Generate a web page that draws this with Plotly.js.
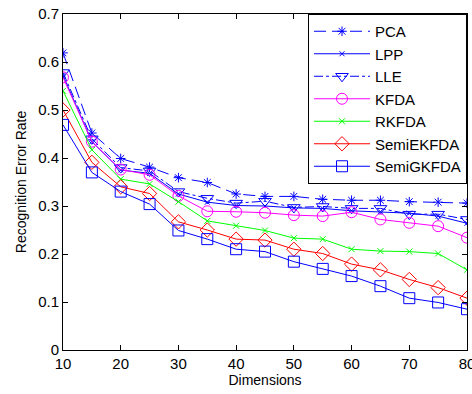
<!DOCTYPE html>
<html><head><meta charset="utf-8">
<script src="https://cdn.plot.ly/plotly-3.0.1.min.js"></script>
<style>body{margin:0;background:#fff}#c{width:472px;height:394px}</style>
</head><body><div id="c"></div>
<script>
const dims = [10,15,20,25,30,35,40,45,50,55,60,65,70,75,80];
const pca      = [0.619,0.452,0.399,0.381,0.359,0.349,0.325,0.320,0.320,0.314,0.312,0.312,0.309,0.308,0.306];
const lpp      = [0.572,0.434,0.375,0.368,0.325,0.308,0.301,0.300,0.296,0.295,0.290,0.288,0.285,0.279,0.264];
const lle      = [0.578,0.440,0.380,0.373,0.330,0.316,0.306,0.310,0.297,0.299,0.295,0.295,0.283,0.283,0.272];
const kfda     = [0.568,0.434,0.376,0.365,0.321,0.289,0.288,0.286,0.281,0.279,0.287,0.272,0.265,0.258,0.234];
const rkfda    = [0.540,0.417,0.356,0.346,0.309,0.269,0.259,0.249,0.233,0.231,0.210,0.206,0.205,0.201,0.167];
const semiE    = [0.500,0.391,0.340,0.326,0.267,0.250,0.231,0.229,0.210,0.201,0.179,0.167,0.147,0.130,0.108];
const semiG    = [0.469,0.370,0.330,0.304,0.249,0.231,0.210,0.205,0.184,0.169,0.154,0.133,0.108,0.099,0.085];
const names = ['PCA','LPP','LLE','KFDA','RKFDA','SemiEKFDA','SemiGKFDA'];
const xTicks = [10,20,30,40,50,60,70,80];
const yTicks = [0,0.1,0.2,0.3,0.4,0.5,0.6,0.7];
const yTickText = ['0','0.1','0.2','0.3','0.4','0.5','0.6','0.7'];

const blue='#0000ff', mag='#ff00ff', grn='#00ff00', red='#ff0000';
function tr(y,name,color,sym,size,dash){
  return {x:dims,y:y,name:name,type:'scatter',mode:'lines+markers',
    line:{color:color,width:1,dash:dash||'solid'},
    marker:{symbol:sym,size:size,color:color,line:{color:color,width:1}}};
}
const data=[
  tr(pca,names[0],blue,'asterisk-open',8,'12px,6px'),
  tr(lpp,names[1],blue,'x-thin-open',5),
  tr(lle,names[2],blue,'triangle-down-open',11,'dashdot'),
  tr(kfda,names[3],mag,'circle-open',11),
  tr(rkfda,names[4],grn,'x-thin-open',6),
  tr(semiE,names[5],red,'diamond-open',11),
  tr(semiG,names[6],blue,'square-open',11)
];
const ax={showline:true,linecolor:'#000',linewidth:1,mirror:'ticks',ticks:'inside',ticklen:5,tickcolor:'#000',
  showgrid:false,zeroline:false,ticklabeloverflow:'allow',tickfont:{family:'Liberation Sans, Arial',size:15,color:'#000'}};
const layout={
  width:472,height:394,margin:{l:63,r:5,t:14,b:44},
  paper_bgcolor:'#fff',plot_bgcolor:'#fff',
  font:{family:'Liberation Sans, Arial',color:'#000'},
  xaxis:Object.assign({},ax,{range:[10,80],tickvals:xTicks,
    title:{text:'Dimensions',font:{size:14},standoff:3}}),
  yaxis:Object.assign({},ax,{range:[0,0.7],tickvals:yTicks,ticktext:yTickText,
    title:{text:'Recognition Error Rate',font:{size:14},standoff:8}}),
  legend:{x:1,y:1,xanchor:'right',yanchor:'top',bgcolor:'#fff',bordercolor:'#000',borderwidth:1,
    font:{size:15,family:'Liberation Sans, Arial'},tracegroupgap:0,itemwidth:56},
  showlegend:true
};
Plotly.newPlot('c',data,layout,{staticPlot:true,displayModeBar:false});
</script></body></html>
